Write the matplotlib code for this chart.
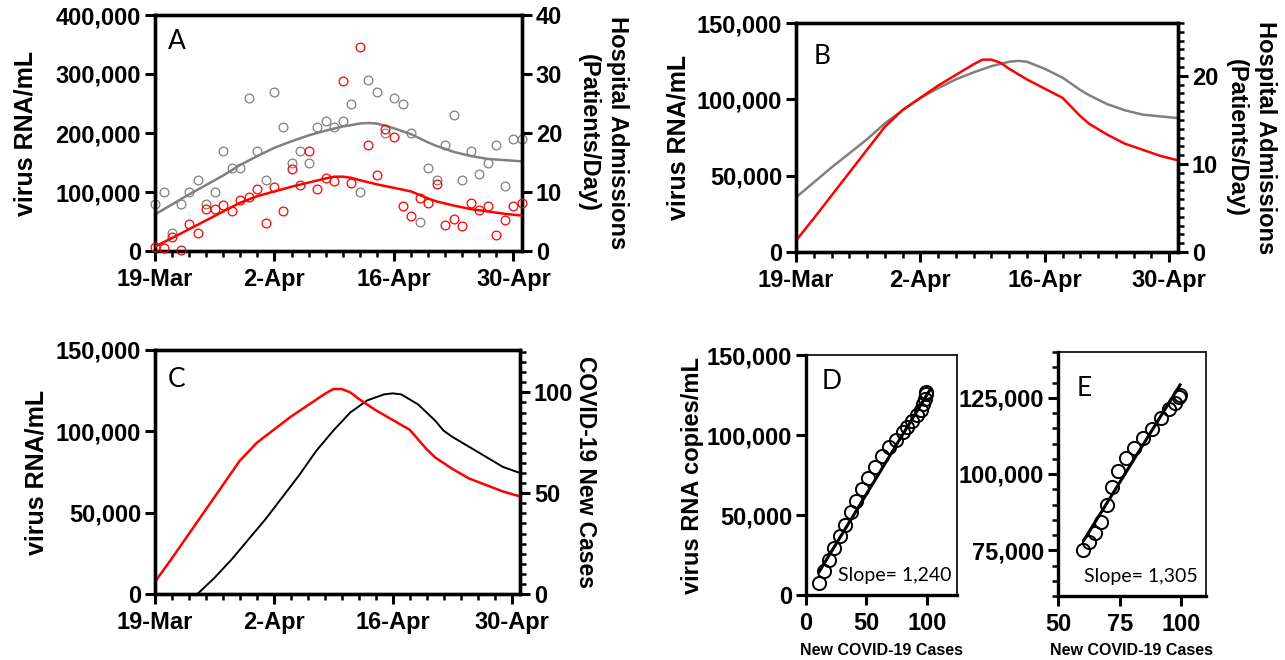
import numpy as np
import matplotlib
matplotlib.use('Agg')
import matplotlib.pyplot as plt
from matplotlib.ticker import FuncFormatter, MultipleLocator

# x positions are days after 19-Mar
pt_days = list(range(44))
adm_pts = [8, 10, 3, 8, 10, 12, 8, 10, 17, 14, 14, 26, 17, 12, 27, 21, 15, 17, 15, 21, 22, 21,
           22, 25, 10, 29, 27, 20, 26, 25, 20, 5, 14, 12, 18, 23, 12, 17, 13, 15, 18, 11, 19, 19]
rna_pts = [7000, 5000, 23000, 2000, 45000, 30000, 72000, 72000, 78000, 68000, 86000, 91000,
           105000, 48000, 108000, 68000, 139000, 112000, 170000, 105000, 124000, 119000,
           288000, 116000, 345000, 180000, 129000, 206000, 193000, 77000, 60000, 89000,
           81000, 113000, 44000, 55000, 43000, 81000, 70000, 76000, 27000, 52000, 76000, 81000]

rna_fit_days = [0, 2, 4, 6, 8, 10, 12, 14, 16, 18, 20, 21, 22, 23, 24, 26, 28, 30, 31, 32, 33,
                35, 37, 39, 41, 43]
rna_fit = [7500, 22000, 37000, 52000, 67000, 82000, 93000, 101000, 109000, 116000, 123000,
           126000, 126000, 124000, 120000, 113000, 107000, 101000, 95000, 89000, 84000,
           77000, 71000, 67000, 63000, 60000]

adm_fit_days = [0, 2, 4, 6, 8, 10, 12, 14, 16, 18, 20, 22, 24, 25, 26, 28, 30, 32, 33, 35, 37,
                39, 41, 43]
adm_fit = [6.2, 7.9, 9.6, 11.2, 12.8, 14.6, 16.1, 17.5, 18.6, 19.6, 20.4, 21.1, 21.6, 21.7,
           21.6, 20.8, 19.8, 18.4, 17.8, 16.8, 16.1, 15.6, 15.4, 15.2]

cases_days = [5, 7, 9, 11, 13, 15, 17, 19, 21, 23, 25, 27, 28, 29, 31, 33, 34, 35, 37, 39, 41, 43]
cases_fit = [0, 8, 17, 27, 37, 48, 59, 71, 81, 90, 96, 99, 99.5, 99, 94, 86, 81, 78, 73, 68,
             63, 60]

d_cases = [11, 15, 19.3, 23.4, 28.4, 32.5, 37.2, 41.3, 46.3, 51.5, 57.3, 62.8, 68.9, 74.4,
           79.9, 84, 88, 92.3, 95, 97.2, 98.6, 99.7, 99.2]
d_rna = [7800, 14700, 22000, 29500, 37000, 44000, 51600, 59000, 66000, 73000, 80000, 86700,
         92600, 96800, 101700, 105000, 109000, 112600, 115800, 119400, 122500, 125700, 127000]
d_fit_x = [11, 102]
d_fit_y = [14700, 127500]

e_cases = [60.3, 62.7, 65.2, 67.3, 69.9, 72, 74.5, 77.6, 80.7, 84.3, 88.3, 91.9, 95, 97.3,
           98.9, 99.6]
e_rna = [75000, 77600, 80700, 84100, 89900, 95700, 101000, 105100, 108600, 111800, 114900,
         118200, 121400, 123300, 125200, 125800]
e_fit_x = [60.5, 99.5]
e_fit_y = [78300, 129200]

date_ticks = [0, 14, 28, 42]
date_labels = ['19-Mar', '2-Apr', '16-Apr', '30-Apr']

plt.rcParams['font.family'] = ['Liberation Sans', 'DejaVu Sans']
plt.rcParams['font.weight'] = 'bold'
plt.rcParams['axes.labelweight'] = 'bold'
plt.rcParams['font.size'] = 17

RED = '#ff0000'
GRAY = '#808080'
W, H = 1285.0, 660.0
comma = FuncFormatter(lambda v, p: '{:,}'.format(int(round(v))))


def box(l, t, r, b):
    # pixel box -> figure fraction rect
    return [l / W, 1 - b / H, (r - l) / W, (b - t) / H]


def style(ax, lw=2.4):
    for s in ax.spines.values():
        s.set_linewidth(lw)
    ax.tick_params(which='major', direction='out', length=7, width=2.2, pad=3, labelsize=17)
    ax.tick_params(axis='x', which='major', pad=5)
    ax.tick_params(which='minor', direction='out', length=4.5, width=1.8)


def date_axis(ax):
    ax.set_xlim(0, 43)
    ax.set_xticks(date_ticks)
    ax.set_xticklabels(date_labels)
    ax.xaxis.set_minor_locator(MultipleLocator(2))


def letter(ax, s, x, y):
    ax.text(x, y, s, transform=ax.transAxes, family=['Lato', 'DejaVu Sans'],
            fontweight='normal', fontsize=19, ha='left', va='top')


def left_label(ax, s, x, size=18):
    ax.set_ylabel(s, fontsize=size, va='center')
    ax.yaxis.set_label_coords(x, 0.5)


def right_label(ax, s, x, size=17):
    ax.set_ylabel(s, fontsize=size, rotation=270, va='center', ha='center', linespacing=1.35)
    ax.yaxis.set_label_coords(x, 0.5)


fig = plt.figure(figsize=(12.85, 6.6), dpi=100)

# ---- A
axA = fig.add_axes(box(155, 15, 522, 251))
axA2 = axA.twinx()
axA2.plot(pt_days, adm_pts, 'o', ms=6.3, mfc='none', mec=GRAY, mew=0.9, clip_on=False)
axA2.plot(adm_fit_days, adm_fit, color=GRAY, lw=1.8)
axA.plot(pt_days, rna_pts, 'o', ms=6.3, mfc='none', mec=RED, mew=0.9, clip_on=False, zorder=3)
axA.plot(rna_fit_days, rna_fit, color=RED, lw=1.8, zorder=3)
axA.set_zorder(axA2.get_zorder() + 1)
axA.patch.set_visible(False)
axA.set_ylim(0, 400000)
axA.set_yticks([0, 100000, 200000, 300000, 400000])
axA.yaxis.set_major_formatter(comma)
axA2.set_ylim(0, 40)
axA2.set_yticks([0, 10, 20, 30, 40])
date_axis(axA)
style(axA)
style(axA2)
left_label(axA, 'virus RNA/mL', (26 - 155) / 367)
right_label(axA2, 'Hospital Admissions\n(Patients/Day)', (603 - 155) / 367)
letter(axA, 'A', 0.035, 0.94)

# ---- B
axB = fig.add_axes(box(796, 23, 1178, 252))
axB2 = axB.twinx()
axB2.plot(adm_fit_days, adm_fit, color=GRAY, lw=1.8)
axB.plot(rna_fit_days, rna_fit, color=RED, lw=1.8)
axB.set_zorder(axB2.get_zorder() + 1)
axB.patch.set_visible(False)
axB.set_ylim(0, 150000)
axB.set_yticks([0, 50000, 100000, 150000])
axB.yaxis.set_major_formatter(comma)
axB2.set_ylim(0, 26)
axB2.set_yticks([0, 10, 20])
axB2.yaxis.set_minor_locator(MultipleLocator(1))
date_axis(axB)
style(axB)
style(axB2)
left_label(axB, 'virus RNA/mL', (678 - 796) / 382)
right_label(axB2, 'Hospital Admissions\n(Patients/Day)', (1251 - 796) / 382)
letter(axB, 'B', 0.045, 0.91)

# ---- C
axC = fig.add_axes(box(155, 350, 520, 594))
axC2 = axC.twinx()
axC2.plot(cases_days, cases_fit, color='black', lw=1.4)
axC.plot(rna_fit_days, rna_fit, color=RED, lw=1.8)
axC.set_zorder(axC2.get_zorder() + 1)
axC.patch.set_visible(False)
axC.set_ylim(0, 150000)
axC.set_yticks([0, 50000, 100000, 150000])
axC.yaxis.set_major_formatter(comma)
axC2.set_ylim(0, 121)
axC2.set_yticks([0, 50, 100])
axC2.yaxis.set_minor_locator(MultipleLocator(5))
date_axis(axC)
style(axC)
style(axC2)
left_label(axC, 'virus RNA/mL', (37 - 155) / 365)
right_label(axC2, 'COVID-19 New Cases', (585 - 155) / 365, size=16.5)
letter(axC, 'C', 0.035, 0.93)

# ---- D
axD = fig.add_axes(box(806, 355, 957, 595))
axD.plot(d_cases, d_rna, 'o', ms=9.5, mfc='none', mec='black', mew=1.4, clip_on=False)
axD.plot(d_fit_x, d_fit_y, color='black', lw=2.2)
axD.set_xlim(0, 125)
axD.set_ylim(0, 150000)
axD.set_xticks([0, 50, 100])
axD.set_yticks([0, 50000, 100000, 150000])
axD.yaxis.set_major_formatter(comma)
style(axD)
axD.spines['top'].set_linewidth(1.2)
axD.spines['right'].set_linewidth(1.2)
left_label(axD, 'virus RNA copies/mL', (693 - 806) / 151, size=17)
axD.set_xlabel('New COVID-19 Cases', fontsize=11.5, labelpad=6)
axD.text(0.21, 0.083, 'Slope= 1,240', transform=axD.transAxes, family=['Lato', 'DejaVu Sans'],
         fontweight='normal', fontsize=14, va='center')
letter(axD, 'D', 0.105, 0.94)

# ---- E
axE = fig.add_axes(box(1058, 352, 1206, 596))
axE.plot(e_cases, e_rna, 'o', ms=9.5, mfc='none', mec='black', mew=1.4, clip_on=False)
axE.plot(e_fit_x, e_fit_y, color='black', lw=2.2)
axE.set_xlim(50, 110)
axE.set_ylim(60000, 140000)
axE.set_xticks([50, 75, 100])
axE.set_yticks([75000, 100000, 125000])
axE.yaxis.set_minor_locator(MultipleLocator(5000))
axE.yaxis.set_major_formatter(comma)
style(axE)
axE.spines['top'].set_linewidth(1.2)
axE.spines['right'].set_linewidth(1.2)
axE.set_xlabel('New COVID-19 Cases', fontsize=11.5, labelpad=5)
axE.text(0.176, 0.08, 'Slope= 1,305', transform=axE.transAxes, family=['Lato', 'DejaVu Sans'],
         fontweight='normal', fontsize=14, va='center')
letter(axE, 'E', 0.128, 0.90)

fig.savefig('out.png', dpi=100)
